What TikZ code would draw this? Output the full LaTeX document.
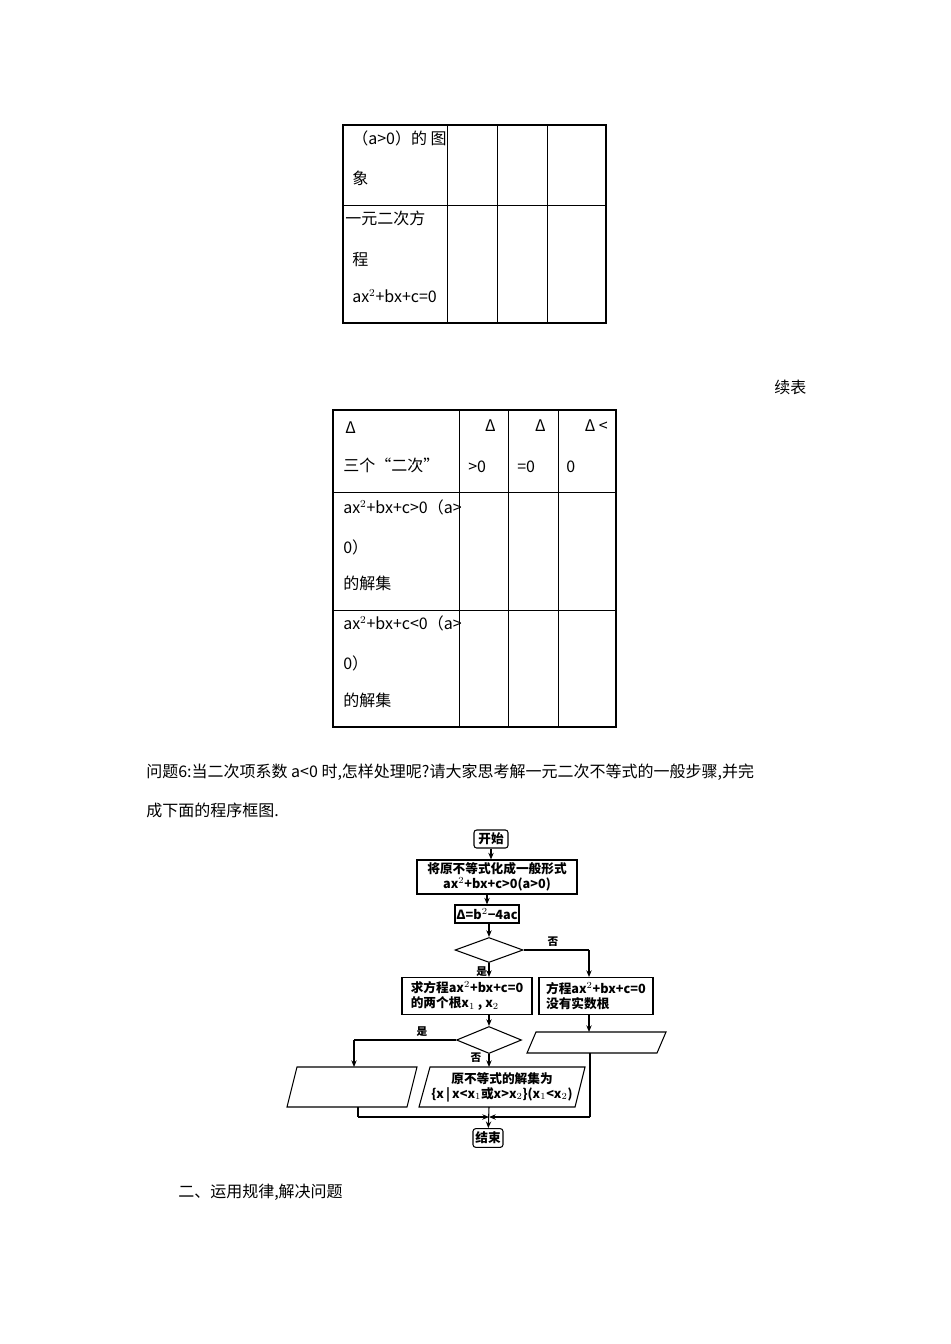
\documentclass[tikz,border=0pt]{standalone}
\usepackage{fontspec}
\setmainfont{Liberation Serif}
\newfontfamily\cjk{Noto Sans CJK SC}
\usetikzlibrary{shapes.geometric,arrows.meta}
\tikzset{
  txt/.style={anchor=west,inner sep=0pt,font=\cjk\fontsize{12pt}{14pt}\selectfont},
  fc/.style={draw,line width=0.8pt,inner sep=1pt,align=center,font=\cjk\bfseries\fontsize{9.5pt}{11pt}\selectfont},
  dia/.style={draw,line width=0.8pt,diamond,inner sep=0pt},
  paraline/.style={draw,line width=0.8pt},
  arr/.style={line width=0.8pt,-{Stealth[length=5pt,width=4pt]}},
  ln/.style={line width=0.8pt},
  lab/.style={font=\cjk\bfseries\fontsize{8pt}{9pt}\selectfont,inner sep=0pt},
  thick border/.style={line width=2pt},
  thin/.style={line width=0.7pt}
}
\begin{document}
\begin{tikzpicture}[x=0.75pt,y=-0.75pt]
\useasboundingbox (0,0) rectangle (950,1344);
% top table
\draw[thin] (447,125) -- (447,323) (497,125) -- (497,323) (547,125) -- (547,323) (343,205) -- (606,205);
\draw[thick border] (343,125) rectangle (606,323);
\node[txt] (t1) at (352,138) {（\textit{a}>0）的 图};
\node[txt] (t2) at (352,178) {象};
\node[txt] (t3) at (345,218) {一元二次方};
\node[txt] (t4) at (352,260) {程};
\node[txt] (t5) at (352,296) {\textit{ax}$^{2}$+\textit{bx}+\textit{c}=0};
\node[txt] (xb) at (774,387) {续表};
% second table
\draw[thin] (459,410) -- (459,727) (508,410) -- (508,727) (558,410) -- (558,727) (333,492) -- (616,492) (333,610) -- (616,610);
\draw[thick border] (333,410) rectangle (616,727);
\node[txt] (s1) at (345,428) {\textit{Δ}};
\node[txt] (s2) at (343,465) {三个“二次”};
\node[txt,anchor=east] (s3) at (496,426) {\textit{Δ}};
\node[txt,anchor=east] (s4) at (546,426) {\textit{Δ}};
\node[txt,anchor=east] (s5) at (608,426) {\textit{Δ} <};
\node[txt] (s6) at (468,467) {>0};
\node[txt] (s7) at (517,467) {=0};
\node[txt] (s8) at (566,467) {0};
\node[txt] (r1) at (343,507) {\textit{ax}$^{2}$+\textit{bx}+\textit{c}>0（\textit{a}>};
\node[txt] (r2) at (343,547) {0）};
\node[txt] (r3) at (343,583) {的解集};
\node[txt] (q1) at (343,623) {\textit{ax}$^{2}$+\textit{bx}+\textit{c}<0（\textit{a}>};
\node[txt] (q2) at (343,663) {0）};
\node[txt] (q3) at (343,700) {的解集};
% question
\node[txt] (p1) at (146,772) {问题6:当二次项系数 \textit{a}<0 时,怎样处理呢?请大家思考解一元二次不等式的一般步骤,并完};
\node[txt] (p2) at (146,810) {成下面的程序框图.};
% flowchart
\node[fc,minimum width=25.5pt,minimum height=13.5pt,rounded corners=2pt] (start) at (491,839) {开始};
\node[fc,minimum width=120pt,minimum height=25.5pt] (b1) at (497,877) {将原不等式化成一般形式\\ \textit{ax}$^{2}$+\textit{bx}+\textit{c}>0(\textit{a}>0)};
\node[fc,minimum width=45.75pt,minimum height=13.5pt] (b2) at (487,914) {\textit{Δ}=\textit{b}$^{2}$−4\textit{ac}};
\node[dia,minimum width=51pt,minimum height=18.75pt,aspect=2.7] (d1) at (489,950) {};
\node[fc,minimum width=97.5pt,minimum height=27.75pt,align=left] (bl) at (467,996) {求方程\textit{ax}$^{2}$+\textit{bx}+\textit{c}=0\\的两个根\textit{x}$_1$ , \textit{x}$_2$};
\node[fc,minimum width=85.5pt,minimum height=27.75pt,align=left] (br) at (596,996) {方程\textit{ax}$^{2}$+\textit{bx}+\textit{c}=0\\没有实数根};
\node[dia,minimum width=48.75pt,minimum height=20.25pt,aspect=2.4] (d2) at (489,1040) {};
\draw[paraline] (287,1107) -- (407,1107) -- (417,1067) -- (297,1067) -- cycle;
\draw[paraline] (419,1107) -- (575,1107) -- (585,1067) -- (430,1067) -- cycle;
\draw[paraline] (527,1053) -- (657,1053) -- (666,1032) -- (536,1032) -- cycle;
\node[fc,draw=none] (pm) at (502,1087) {原不等式的解集为\\ \{\textit{x}\,|\,\textit{x}<\textit{x}$_1$或\textit{x}>\textit{x}$_2$\}(\textit{x}$_1$<\textit{x}$_2$)};
\node[fc,minimum width=22.5pt,minimum height=14pt,rounded corners=2pt] (end) at (488,1138) {结束};
\coordinate (m) at (489,1117);
\draw[arr] (start) -- (start|-b1.north);
\draw[arr] (b2|-b1.south) -- (b2);
\draw[arr] (d1|-b2.south) -- (d1);
\draw[arr] (d1) -- (d1|-bl.north) node[lab,pos=0.6,left=1pt] {是};
\draw[ln] (d1.east) -- (589,950);
\draw[arr] (589,950) -- (589,977);
\node[lab] (no1) at (553,942) {否};
\draw[arr] (d2|-bl.south) -- (d2.north);
\draw[ln] (d2.west) -- (354,1040);
\draw[arr] (354,1040) -- (354,1067);
\node[lab] (yes2) at (422,1032) {是};
\draw[arr] (d2.south) -- (489,1067);
\node[lab] (no2) at (476,1058) {否};
\draw[arr] (589,1014) -- (589,1032);
\draw[ln] (358,1107) -- (358,1117);
\draw[arr] (358,1117) -- (m);
\draw[ln] (590,1053) -- (590,1117);
\draw[arr] (590,1117) -- (m);
\draw[arr] (489,1107) -- (end);
\node[txt] (last) at (178,1192) {二、运用规律,解决问题};
\end{tikzpicture}
\end{document}
